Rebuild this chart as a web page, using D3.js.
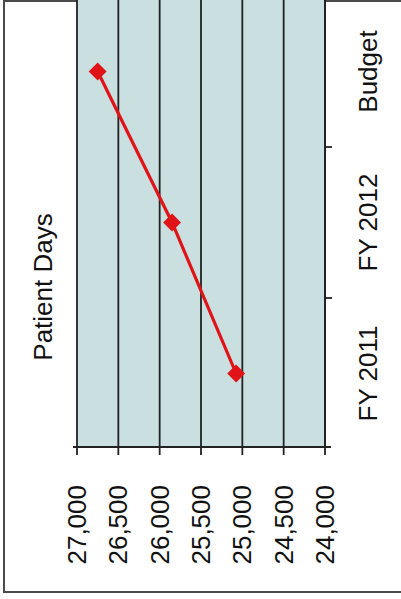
<!DOCTYPE html>
<html>
<head>
<meta charset="utf-8">
<script src="https://cdn.jsdelivr.net/npm/d3@7"></script>
<style>
  html, body { margin: 0; padding: 0; background: #fff; }
  svg { display: block; }
  text { font-family: "Liberation Sans", Arial, sans-serif; fill: #111; }
</style>
</head>
<body>
<svg id="chart" width="401" height="599"></svg>
<script>
// Patient Days by period (chart laid out sideways)
const categories = ["Budget", "FY 2012", "FY 2011"];
const patientDays = [26750, 25850, 25075];
const valueTicks = [27000, 26500, 26000, 25500, 25000, 24500, 24000];
const titleText = "Patient Days";

const svg = d3.select("#chart");
const fmt = d3.format(",");
const fontSize = "26px";

// value axis runs left-to-right from 27,000 down to 24,000
const x = d3.scaleLinear().domain([27000, 24000]).range([77, 325]);
// categories stacked bottom-to-top
const y = d3.scaleBand().domain(categories).range([-4, 449]).padding(0);

// outer frame
svg.append("rect")
  .attr("x", 4).attr("y", 1)
  .attr("width", 430).attr("height", 591)
  .attr("fill", "none")
  .attr("stroke", "#4a4a4a")
  .attr("stroke-width", 2);

// plot area
svg.append("rect")
  .attr("x", x(27000)).attr("y", 0)
  .attr("width", x(24000) - x(27000)).attr("height", 447)
  .attr("fill", "#cadfdf");

// gridlines at each value tick
svg.append("g").selectAll("line")
  .data(valueTicks)
  .join("line")
  .attr("x1", d => x(d)).attr("x2", d => x(d))
  .attr("y1", 0).attr("y2", 455)
  .attr("stroke", "#222")
  .attr("stroke-width", 1.8);

// value axis baseline
svg.append("line")
  .attr("x1", x(27000) - 4).attr("x2", x(24000) + 6)
  .attr("y1", 447).attr("y2", 447)
  .attr("stroke", "#222").attr("stroke-width", 1.8);

// value tick labels, rotated
svg.append("g").selectAll("text")
  .data(valueTicks)
  .join("text")
  .attr("transform", d => `translate(${x(d)},485) rotate(-90)`)
  .attr("text-anchor", "end")
  .attr("dy", "0.35em")
  .style("font-size", fontSize)
  .text(d => fmt(d));

// category axis line on the right edge with boundary ticks
svg.append("line")
  .attr("x1", x(24000)).attr("x2", x(24000))
  .attr("y1", 0).attr("y2", 447)
  .attr("stroke", "#222").attr("stroke-width", 1.8);

const boundaries = categories.slice(1).map(c => y(c));
svg.append("g").selectAll("line")
  .data(boundaries)
  .join("line")
  .attr("x1", x(24000)).attr("x2", x(24000) + 7)
  .attr("y1", d => d).attr("y2", d => d)
  .attr("stroke", "#222").attr("stroke-width", 1.8);

// category labels
svg.append("g").selectAll("text")
  .data(categories)
  .join("text")
  .attr("transform", d => `translate(377,${y(d) + y.bandwidth() / 2}) rotate(-90)`)
  .attr("text-anchor", "middle")
  .style("font-size", fontSize)
  .text(d => d);

// title
svg.append("text")
  .attr("transform", "translate(52,287) rotate(-90)")
  .attr("text-anchor", "middle")
  .style("font-size", fontSize)
  .text(titleText);

// series line and diamond markers
const pts = categories.map((c, i) => ({ c, v: patientDays[i] }));
const line = d3.line()
  .x(d => x(d.v))
  .y(d => y(d.c) + y.bandwidth() / 2);

svg.append("path")
  .datum(pts)
  .attr("d", line)
  .attr("fill", "none")
  .attr("stroke", "#e01418")
  .attr("stroke-width", 3.2);

svg.append("g").selectAll("path")
  .data(pts)
  .join("path")
  .attr("transform", d => `translate(${x(d.v)},${y(d.c) + y.bandwidth() / 2}) rotate(45)`)
  .attr("d", d3.symbol().type(d3.symbolSquare).size(160))
  .attr("fill", "#e01418");
</script>
</body>
</html>
